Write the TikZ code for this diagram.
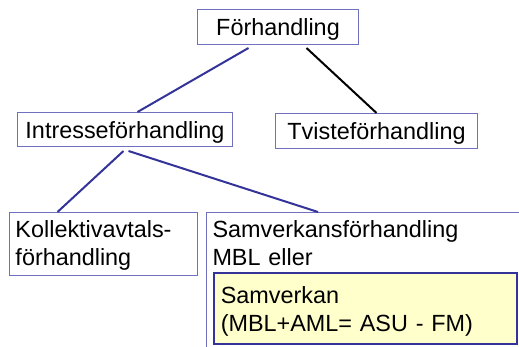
\documentclass[tikz,border=0pt]{standalone}
\usepackage{fontspec}
\setmainfont{Liberation Sans}
\usetikzlibrary{calc}
\definecolor{linkblue}{RGB}{51,51,153}
\definecolor{framecol}{RGB}{112,112,192}
\definecolor{notefill}{RGB}{255,255,204}

\begin{document}
\begin{tikzpicture}[x=1pt,y=-1pt,
  every node/.style={font=\fontsize{23.4}{28}\selectfont, inner xsep=6pt,
    inner ysep=0pt, anchor=north west},
  termbox/.style={draw=framecol, line width=1pt, fill=white},
  notebox/.style={draw=linkblue, line width=1.5pt, fill=notefill},
  bluelink/.style={draw=linkblue, line width=2pt},
  blacklink/.style={draw=black, line width=2pt}]
\useasboundingbox (0,0) rectangle (519,347);
\clip (0,0) rectangle (519,347);

% top level
\node[termbox, minimum width=161pt, minimum height=35pt,
  text height=26pt, text depth=9pt] (forh) at (197,9) {Förhandling};

% second level
\node[termbox, minimum width=215pt, minimum height=34pt,
  text height=26pt, text depth=8pt] (intr) at (17,112) {Intresseförhandling};
\node[termbox, minimum width=202pt, minimum height=35pt,
  text height=26pt, text depth=9pt] (tvist) at (275,113) {Tvisteförhandling};

% third level
\node[termbox, minimum width=188pt, minimum height=63pt, text width=176pt,
  align=left, text height=25pt, text depth=38pt] (koll) at (9,212)
  {Kollektivavtals-\\förhandling};
\node[termbox, fill=none, minimum width=316pt, minimum height=140pt,
  text width=304pt, align=left, text height=25pt, text depth=115pt]
  (samv) at (206,212) {Samverkansförhandling\\MBL eller};
\node[notebox, minimum width=303pt, minimum height=71pt, text width=289pt,
  inner xsep=7pt, align=left, text height=31pt, text depth=40pt]
  (samarb) at ($(samv.north west)+(7,60)$) {Samverkan\\(MBL+AML= ASU - FM)};

% connectors
\draw[bluelink] ([shift={(-29.5,3)}]forh.south) -- ([xshift=12.5pt]intr.north);
\draw[blacklink] ([shift={(28.5,3)}]forh.south) -- (tvist.north);
\draw[bluelink] ([shift={(-1.5,4)}]intr.south) -- ([xshift=-46pt]koll.north);
\draw[bluelink] ([shift={(3.5,4)}]intr.south) -- ([xshift=112pt]samv.north west);
\end{tikzpicture}
\end{document}
